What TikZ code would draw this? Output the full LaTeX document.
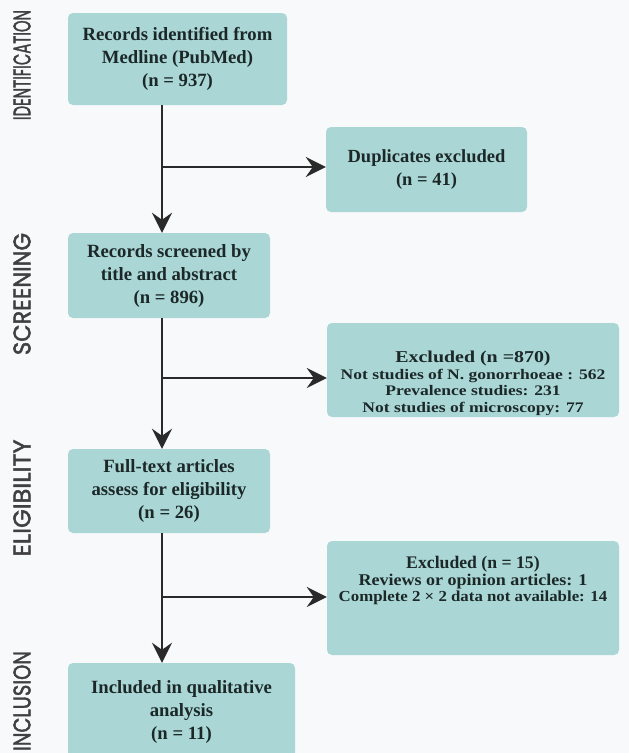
\documentclass[tikz,border=0pt]{standalone}
\usepackage{fontspec}
\setmainfont{Liberation Serif}
\newfontfamily\wideserif[FakeStretch=1.2]{Liberation Serif}
\newfontfamily\midserif[FakeStretch=1.1]{Liberation Serif}
\newfontfamily\gothic[FakeBold=2]{Poppins}
\usetikzlibrary{arrows.meta}
\definecolor{boxfill}{HTML}{AAD7D6}
\definecolor{textc}{HTML}{1C2828}
\definecolor{arrowc}{HTML}{2A2A2A}
\definecolor{bgc}{HTML}{F8F9FA}
\definecolor{labc}{HTML}{404040}
\tikzset{
  box/.style={fill=boxfill, rounded corners=5pt, align=center, text=textc, inner sep=0pt,
    font=\bfseries\fontsize{18.7}{23}\selectfont},
  arr/.style={line width=2.8pt, draw=arrowc, -{Stealth[length=20pt,width=20pt,inset=7pt]}},
  phase/.style={rotate=90, text=labc, inner sep=0pt}
}
\begin{document}
\begin{tikzpicture}[x=1pt,y=-1pt]
\useasboundingbox (0,0) rectangle (629,753);
\clip (0,0) rectangle (629,753);
\fill[bgc] (0,0) rectangle (629,753);

% phase labels
\node[phase] (pid) at (22,65) {\resizebox{110pt}{17pt}{\gothic IDENTIFICATION}};
\node[phase] (psc) at (22,294) {\resizebox{122pt}{17pt}{\gothic SCREENING}};
\node[phase] (pel) at (22,498) {\resizebox{117pt}{17pt}{\gothic ELIGIBILITY}};
\node[phase] (pin) at (22,701) {\resizebox{100pt}{17pt}{\gothic INCLUSION}};

% main boxes
\node[box, minimum width=219pt, minimum height=92pt] (b1) at (177.5,59)
  {Records identified from\\Medline (PubMed)\\(n = 937)};
\node[box, minimum width=202pt, minimum height=85pt] (b2) at (169,275.5)
  {Records screened by\\title and abstract\\(n = 896)};
\node[box, minimum width=202pt, minimum height=84pt] (b3) at (169,491)
  {Full-text articles\\assess for eligibility\\(n = 26)};
\node[box, minimum width=227pt, minimum height=98pt] (b4) at (181.5,712)
  {Included in qualitative\\analysis\\(n = 11)};

% side boxes
\node[box, minimum width=201pt, minimum height=85pt, font=\bfseries\fontsize{18.5}{23}\selectfont] (dup) at (426.5,169.5)
  {Duplicates excluded\\(n = 41)};
\node[box, minimum width=292pt, minimum height=94pt, font=\bfseries\wideserif\fontsize{14.6}{16.5}\selectfont] (ex1) at (473,370)
  {\rule{0pt}{38pt}{\fontsize{16.6}{16.5}\selectfont Excluded (n =870)}\\
   Not studies of N. gonorrhoeae : 562\\
   Prevalence studies: 231\\
   Not studies of microscopy: 77};
\node[box, minimum width=292pt, minimum height=114pt, font=\bfseries\fontsize{17.7}{16.8}\selectfont] (ex2) at (473,598)
  {Excluded (n = 15)\\
   {\midserif\fontsize{16.4}{16.8}\selectfont Reviews or opinion articles: 1}\\
   {\midserif\fontsize{15.3}{16.8}\selectfont Complete 2 × 2 data not available: 14}\rule[-38pt]{0pt}{1pt}};

% junctions
\coordinate (j1) at (162,167);
\coordinate (j2) at (162,378);
\coordinate (j3) at (162,597);

% connectors
\draw[arr] (b1.south -| j1) -- (b2.north -| j1);
\draw[arr] (j1) -- (j1 -| dup.west);
\draw[arr] (b2.south -| j2) -- (b3.north -| j2);
\draw[arr] (j2) -- (j2 -| ex1.west);
\draw[arr] (b3.south -| j3) -- (b4.north -| j3);
\draw[arr] (j3) -- (j3 -| ex2.west);
\end{tikzpicture}
\end{document}
